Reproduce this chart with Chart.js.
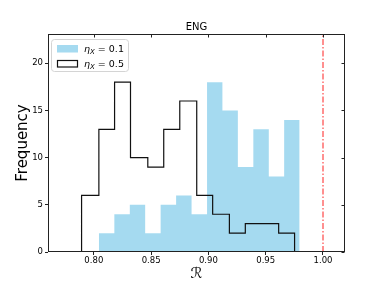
<!DOCTYPE html>
<html>
<head>
<meta charset="utf-8">
<script src="https://cdn.jsdelivr.net/npm/chart.js@4.4.0/dist/chart.umd.min.js"></script>
<style>
  body { margin: 0; background: #fff; }
</style>
</head>
<body>
<canvas id="hist-chart" width="384" height="288"></canvas>
<script>
// bin edges and counts
const lowEdges = [0.8044, 0.8179, 0.8314, 0.8448, 0.8583, 0.8718, 0.8853, 0.8988, 0.9122, 0.9257, 0.9392, 0.9527, 0.9661, 0.9796];
const lowCounts = [2, 4, 5, 2, 5, 6, 4, 18, 15, 9, 13, 8, 14];
const highEdges = [0.7893, 0.8044, 0.8181, 0.8320, 0.8471, 0.8610, 0.8750, 0.8898, 0.9037, 0.9183, 0.9322, 0.9468, 0.9613, 0.9752];
const highCounts = [6, 13, 18, 10, 9, 13, 16, 6, 4, 2, 3, 3, 2];
const etaValues = ['0.1', '0.5'];
const xTicks = [0.80, 0.85, 0.90, 0.95, 1.00];
const yTicks = [0, 5, 10, 15, 20];
const refValue = 1.00;

const FONT = '"DejaVu Sans", sans-serif';
const BLUE = 'rgba(135, 206, 235, 0.75)';

// outline of a histogram, drawn as a stepped line
function stepPoints(edges, counts) {
    var pts = [{ x: edges[0], y: 0 }];
    counts.forEach(function (c, i) { pts.push({ x: edges[i], y: c }); });
    pts.push({ x: edges[edges.length - 1], y: 0 });
    return pts;
}

const framePlugin = {
    id: 'frame',
    afterDraw: function (chart) {
        const ctx = chart.ctx;
        const a = chart.chartArea;
        const xs = chart.scales.x, ys = chart.scales.y;
        const l = Math.round(a.left) + 0.5, r = Math.round(a.right) - 0.5;
        const t = Math.round(a.top) + 0.5, b = Math.round(a.bottom) - 0.5;
        ctx.save();
        ctx.strokeStyle = '#222';
        ctx.lineWidth = 1;
        ctx.strokeRect(l, t, r - l, b - t);
        // mirrored inward ticks on top and right
        ctx.beginPath();
        xTicks.forEach(function (v) {
            const px = Math.round(xs.getPixelForValue(v)) + 0.5;
            ctx.moveTo(px, t);
            ctx.lineTo(px, t + 3);
        });
        yTicks.forEach(function (v) {
            const py = Math.round(ys.getPixelForValue(v)) + 0.5;
            ctx.moveTo(r, py);
            ctx.lineTo(r - 3, py);
        });
        ctx.stroke();

        // legend box, top left inside the axes
        const bx = a.left + 3, by = a.top + 5, bw = 77, bh = 32;
        ctx.beginPath();
        ctx.roundRect(bx + 0.5, by + 0.5, bw, bh, 3);
        ctx.fillStyle = 'rgba(255,255,255,0.8)';
        ctx.fill();
        ctx.strokeStyle = '#d4d4d4';
        ctx.stroke();
        etaValues.forEach(function (v, i) {
            const ds = chart.data.datasets[i];
            const py = by + 6 + i * 15;
            if (ds.fill) {
                ctx.fillStyle = ds.backgroundColor;
                ctx.fillRect(bx + 6, py, 21, 7.5);
            } else {
                ctx.strokeStyle = ds.borderColor;
                ctx.lineWidth = 1.2;
                ctx.strokeRect(bx + 6.5, py + 0.5, 20, 6.5);
            }
            let tx = bx + 33;
            const base = py + 7;
            ctx.fillStyle = '#000';
            ctx.textBaseline = 'alphabetic';
            ctx.font = 'italic 9.5px ' + FONT;
            ctx.fillText('η', tx, base);
            tx += ctx.measureText('η').width;
            ctx.font = 'italic 7px ' + FONT;
            ctx.fillText('X', tx, base + 2);
            tx += ctx.measureText('X').width;
            ctx.font = '9.5px ' + FONT;
            ctx.fillText(' = ' + v, tx, base);
        });
        ctx.restore();
    }
};

const histChart = document.getElementById('hist-chart');
var CHART = new Chart(histChart, {
    type: 'line',
    data: {
        datasets: [{
            label: 'ηX = ' + etaValues[0],
            data: stepPoints(lowEdges, lowCounts),
            stepped: true,
            fill: 'origin',
            backgroundColor: BLUE,
            borderColor: 'rgba(0,0,0,0)',
            borderWidth: 0,
            pointRadius: 0,
            order: 2
        }, {
            label: 'ηX = ' + etaValues[1],
            data: stepPoints(highEdges, highCounts),
            stepped: true,
            fill: false,
            borderColor: '#111',
            borderWidth: 1.2,
            pointRadius: 0,
            order: 1
        }, {
            label: 'reference',
            data: [{ x: refValue, y: 0 }, { x: refValue, y: 23.1 }],
            fill: false,
            borderColor: '#ff2020',
            borderWidth: 1,
            borderDash: [6, 2, 1.5, 2],
            pointRadius: 0,
            order: 0
        }]
    },
    options: {
        responsive: false,
        animation: false,
        devicePixelRatio: 1,
        events: [],
        layout: { padding: { left: 0, right: 39, top: 0, bottom: 0 } },
        plugins: {
            legend: { display: false },
            tooltip: { enabled: false },
            title: {
                display: true,
                text: 'ENG',
                fullSize: false,
                color: '#000',
                font: { family: FONT, size: 10, weight: 'normal' },
                padding: { top: 21, bottom: 1 }
            }
        },
        scales: {
            x: {
                type: 'linear',
                min: 0.760,
                max: 1.0192,
                afterBuildTicks: function (s) { s.ticks = xTicks.map(function (v) { return { value: v }; }); },
                afterFit: function (s) { s.height = 36; },
                ticks: {
                    color: '#000',
                    font: { family: FONT, size: 8.5 },
                    padding: 1,
                    maxRotation: 0,
                    callback: function (v) { return v.toFixed(2); }
                },
                grid: { drawOnChartArea: false, drawTicks: true, tickLength: 3, color: '#222' },
                border: { display: false },
                title: {
                    display: true,
                    text: 'ℛ',
                    color: '#000',
                    font: { family: FONT, size: 15 },
                    padding: { top: 0, bottom: 5 }
                }
            },
            y: {
                type: 'linear',
                min: 0,
                max: 23.1,
                afterBuildTicks: function (s) { s.ticks = yTicks.map(function (v) { return { value: v }; }); },
                afterFit: function (s) { s.width = 48; },
                ticks: {
                    color: '#000',
                    font: { family: FONT, size: 8.5 },
                    padding: 2
                },
                grid: { drawOnChartArea: false, drawTicks: true, tickLength: 3, color: '#222' },
                border: { display: false },
                title: {
                    display: true,
                    text: 'Frequency',
                    color: '#000',
                    font: { family: FONT, size: 15 },
                    padding: { top: 14, bottom: 0 }
                }
            }
        }
    },
    plugins: [framePlugin]
});
</script>
</body>
</html>
